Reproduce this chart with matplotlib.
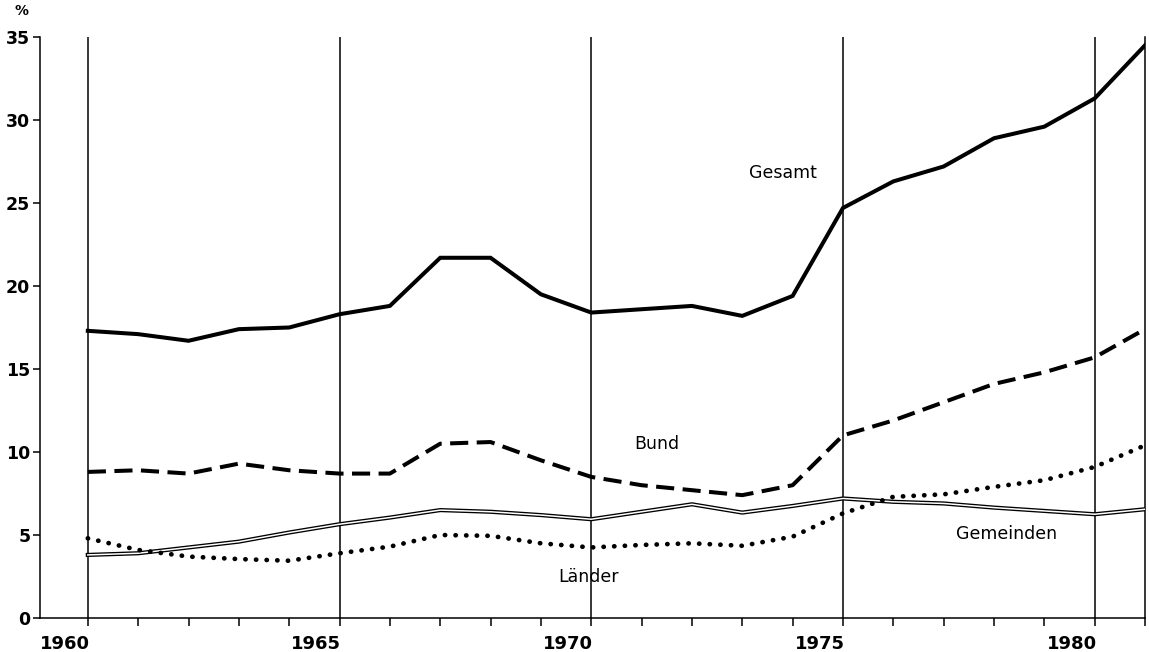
import matplotlib
matplotlib.use("Agg")
import matplotlib.pyplot as plt

years = list(range(1960, 1982))
gesamt = [17.3, 17.1, 16.7, 17.4, 17.5, 18.3, 18.8, 21.7, 21.7, 19.5, 18.4,
          18.6, 18.8, 18.2, 19.4, 24.7, 26.3, 27.2, 28.9, 29.6, 31.3, 34.5]
bund = [8.8, 8.9, 8.7, 9.3, 8.9, 8.7, 8.7, 10.5, 10.6, 9.5, 8.5,
        8.0, 7.7, 7.4, 8.0, 11.0, 11.9, 13.0, 14.1, 14.8, 15.7, 17.4]
gemeinden = [3.8, 3.9, 4.25, 4.6, 5.15, 5.65, 6.05, 6.5, 6.4, 6.2, 5.95,
             6.4, 6.85, 6.35, 6.75, 7.2, 7.0, 6.9, 6.65, 6.45, 6.25, 6.55]
laender = [4.8, 4.1, 3.7, 3.55, 3.45, 3.9, 4.3, 5.0, 4.95, 4.5, 4.25,
           4.4, 4.5, 4.35, 4.9, 6.3, 7.3, 7.45, 7.9, 8.3, 9.1, 10.4]
series_labels = ["Gesamt", "Bund", "Gemeinden", "Länder"]
label_pos = [(1973.8, 26.8), (1971.3, 10.5), (1978.25, 5.05), (1969.95, 2.5)]
yticks = [0, 5, 10, 15, 20, 25, 30, 35]
grid_years = [1960, 1965, 1970, 1975, 1980]
year_labels = ["1960", "1965", "1970", "1975", "1980"]

W, H = 1149, 652
fig = plt.figure(figsize=(W / 100, H / 100), dpi=100)
ax = fig.add_axes([40 / W, 1 - 618 / H, (1145 - 40) / W, (618 - 37) / H])

ax.set_xlim(1959.05, 1981)
ax.set_ylim(0, 35)

for g in grid_years:
    ax.axvline(g, color="black", lw=1.1, zorder=1)

ax.plot(years, gesamt, color="black", lw=2.9, solid_joinstyle="miter", zorder=3)
ax.plot(years, bund, color="black", lw=2.9, linestyle=(0, (4.5, 2.1)),
        dash_capstyle="butt", zorder=3)
ax.plot(years, gemeinden, color="black", lw=3.0, zorder=3)
ax.plot(years, gemeinden, color="white", lw=1.1, zorder=3.1)
ax.plot(years, laender, color="black", lw=3.4, linestyle=(0, (0.05, 2.2)),
        dash_capstyle="round", zorder=3.2)

for lbl, (x, y) in zip(series_labels, label_pos):
    ax.text(x, y, lbl, ha="center", va="center", fontsize=12.5,
            family="DejaVu Sans", zorder=4)

ax.spines["top"].set_visible(False)
for s in ["left", "bottom", "right"]:
    ax.spines[s].set_linewidth(1.1)

ax.set_yticks(yticks)
ax.set_yticklabels([str(v) for v in yticks], fontsize=12.5, fontweight="bold")
ax.tick_params(axis="y", direction="out", length=5, width=1.1, pad=2)

ax.set_xticks(years)
ax.set_xticklabels([])
ax.tick_params(axis="x", direction="out", length=6, width=1.1)

for g, lbl in zip(grid_years, year_labels):
    ax.text(g - 0.46, -0.03, lbl, transform=ax.get_xaxis_transform(),
            ha="center", va="top", fontsize=13, fontweight="bold")

ax.text(-0.017, 1.032, "%", transform=ax.transAxes, ha="center", va="bottom",
        fontsize=10, fontweight="bold")

fig.savefig("out.png", dpi=100)
